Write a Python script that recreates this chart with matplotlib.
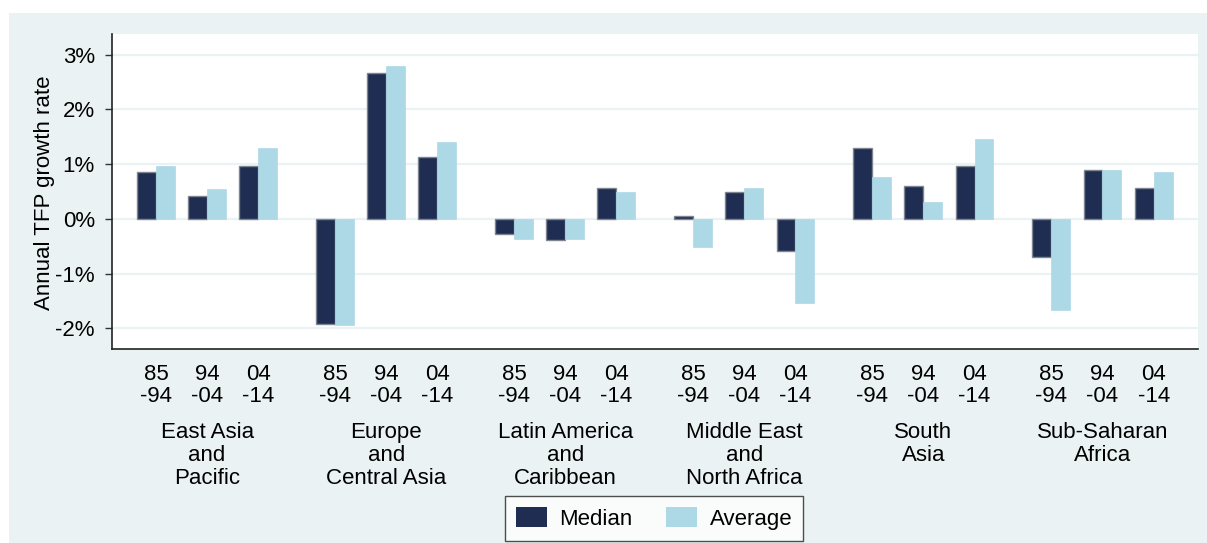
import matplotlib
matplotlib.use('Agg')
import matplotlib.pyplot as plt
import matplotlib.transforms as mtransforms
from matplotlib.patches import Rectangle
import numpy as np

plt.rcParams['font.family'] = ['Liberation Sans', 'DejaVu Sans']

FONT = 16
NAVY = '#1f2d52'
LIGHT = '#add8e6'
BG = '#eaf2f3'

regions = ['East Asia\nand\nPacific', 'Europe\nand\nCentral Asia',
           'Latin America\nand\nCaribbean', 'Middle East\nand\nNorth Africa',
           'South\nAsia', 'Sub-Saharan\nAfrica']
periods = ['85\n-94', '94\n-04', '04\n-14']

# annual TFP growth, percent; one row per region, one column per period
median = [[0.86, 0.42, 0.97],
          [-1.92, 2.67, 1.13],
          [-0.27, -0.38, 0.57],
          [0.05, 0.49, -0.58],
          [1.30, 0.60, 0.96],
          [-0.70, 0.90, 0.57]]
average = [[0.97, 0.54, 1.29],
           [-1.94, 2.79, 1.40],
           [-0.37, -0.37, 0.49],
           [-0.51, 0.57, -1.53],
           [0.76, 0.31, 1.46],
           [-1.66, 0.90, 0.85]]

y_ticks = [-2, -1, 0, 1, 2, 3]
y_names = ['-2%', '-1%', '0%', '1%', '2%', '3%']

GROUP_STEP = 3.5
BAR_W = 0.37


def main():
  fig = plt.figure(figsize=(12.07, 5.43), dpi=100)
  fig.patches.append(Rectangle((9 / 1207, 0), 1, (543 - 13) / 543,
                               transform=fig.transFigure, facecolor=BG,
                               edgecolor='none', zorder=-10))
  ax = fig.add_axes([0.0925, 0.3573, 0.9, 0.5801])
  ax.set_facecolor('white')

  med = np.array(median)
  avg = np.array(average)
  n_reg, n_per = med.shape
  x = (np.arange(n_reg)[:, None] * GROUP_STEP + np.arange(n_per)[None, :])
  x = x.ravel()
  ax.bar(x - BAR_W / 2, med.ravel(), BAR_W, color=NAVY, edgecolor='#7f8590',
         linewidth=1.0, label='Median', zorder=3)
  ax.bar(x + BAR_W / 2, avg.ravel(), BAR_W, color=LIGHT, edgecolor=LIGHT,
         linewidth=0.5, label='Average', zorder=3)

  ax.set_xlim(-0.866, x.max() + 0.866)
  ax.set_ylim(-2.38, 3.38)
  ax.set_yticks(y_ticks)
  ax.set_yticklabels(y_names, fontsize=FONT)
  ax.set_xticks(x)
  ax.set_xticklabels(periods * n_reg, fontsize=FONT, linespacing=1.05)
  ax.tick_params(axis='x', length=0, pad=11)
  ax.tick_params(axis='y', length=5, width=1, pad=7, color='#333333')
  ax.grid(axis='y', color=BG, linewidth=1.6, zorder=0)
  ax.set_axisbelow(True)
  for s in ['top', 'right']:
    ax.spines[s].set_visible(False)
  for s in ['left', 'bottom']:
    ax.spines[s].set_color('#222222')
    ax.spines[s].set_linewidth(1.2)

  ax.set_ylabel('Annual TFP growth rate', fontsize=FONT)
  ax.yaxis.set_label_coords(-0.052, 0.497)

  trans = mtransforms.blended_transform_factory(ax.transData, ax.transAxes)
  for g, name in enumerate(regions):
    ax.text(g * GROUP_STEP + 1, -0.232, name, transform=trans, ha='center',
            va='top', fontsize=FONT, linespacing=1.12)

  leg = fig.legend(loc='center', bbox_to_anchor=(0.542, 0.045), ncol=2,
                   fontsize=FONT, frameon=True, fancybox=False,
                   handlelength=1.4, handleheight=0.95, handletextpad=0.55,
                   columnspacing=1.5, borderpad=0.5)
  leg.get_frame().set_edgecolor('#222222')
  leg.get_frame().set_linewidth(1.0)
  for h in leg.legend_handles:
    h.set_edgecolor('none')

  fig.savefig('out.png', dpi=100)


if __name__ == '__main__':
  main()
